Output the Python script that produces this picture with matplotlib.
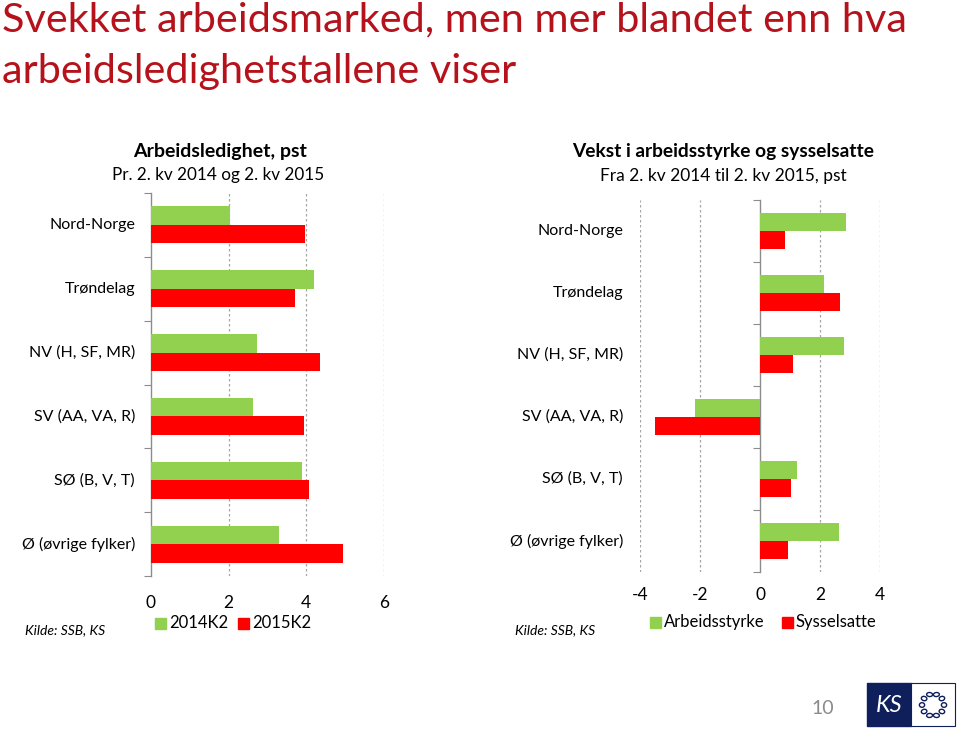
import matplotlib
matplotlib.use("Agg")
import matplotlib.pyplot as plt
import matplotlib.transforms as mtransforms
from matplotlib.patches import Rectangle, Ellipse
import numpy as np

plt.rcParams['font.family'] = ['Lato', 'DejaVu Sans']

# data
regions = ['Nord-Norge', 'Trøndelag', 'NV (H, SF, MR)', 'SV (AA, VA, R)',
           'SØ (B, V, T)', 'Ø (øvrige fylker)']
ledighet_2014 = [2.03, 4.19, 2.74, 2.63, 3.88, 3.30]
ledighet_2015 = [3.97, 3.70, 4.34, 3.93, 4.08, 4.94]
arbeidsstyrke = [2.85, 2.12, 2.79, -2.17, 1.22, 2.64]
sysselsatte = [0.84, 2.67, 1.10, -3.49, 1.03, 0.93]

left_ticks = [0, 2, 4, 6]
right_ticks = [-4, -2, 0, 2, 4]

GREEN = '#92D050'
RED = '#FF0000'
TITLE_RED = '#B5121B'

W, H = 960, 733
fig = plt.figure(figsize=(W / 100, H / 100), dpi=100)


def px_axes(x0, y0, x1, y1):
    return fig.add_axes([x0 / W, 1 - y1 / H, (x1 - x0) / W, (y1 - y0) / H])


def draw_panel(ax, a, b, ticks, label_x, tick_pad):
    y = np.arange(len(regions))
    ax.barh(y - 0.145, a, height=0.29, color=GREEN, zorder=3)
    ax.barh(y + 0.145, b, height=0.29, color=RED, zorder=3)
    ax.set_xlim(ticks[0], ticks[-1])
    ax.set_ylim(len(regions) - 0.5, -0.5)
    for s in ['top', 'right', 'bottom']:
        ax.spines[s].set_visible(False)
    ax.spines['left'].set_position(('data', 0))
    ax.spines['left'].set_color('#8c8c8c')
    ax.spines['left'].set_linewidth(1.0)
    ax.set_yticks(np.arange(-0.5, len(regions), 1.0))
    ax.set_yticklabels([])
    ax.tick_params(axis='y', length=5, color='#8c8c8c', direction='out')
    ax.set_xticks(ticks)
    ax.set_xticklabels([str(t) for t in ticks], fontsize=12.5)
    ax.tick_params(axis='x', length=0, pad=tick_pad)
    for t in ticks:
        if t != 0:
            ax.axvline(t, color='#a6a6a6', lw=0.9, ls=(0, (2, 2)), zorder=1)
    trans = mtransforms.blended_transform_factory(fig.transFigure, ax.transData)
    for i, name in enumerate(regions):
        ax.text(label_x / W, i, name, transform=trans, ha='right', va='center',
                fontsize=11.5)


# left chart
ax1 = px_axes(151, 193, 384, 576)
draw_panel(ax1, ledighet_2014, ledighet_2015, left_ticks, 135, 14)

# right chart
ax2 = px_axes(640, 200, 880, 572)
draw_panel(ax2, arbeidsstyrke, sysselsatte, right_ticks, 623, 11)

# main title
fig.text(2 / W, 1 - 20 / H, 'Svekket arbeidsmarked, men mer blandet enn hva',
         fontsize=29.8, color=TITLE_RED, va='center', ha='left')
fig.text(2 / W, 1 - 72 / H, 'arbeidsledighetstallene viser',
         fontsize=29.8, color=TITLE_RED, va='center', ha='left')

# panel titles
fig.text(220 / W, 1 - 152 / H, 'Arbeidsledighet, pst', fontsize=14,
         fontweight='bold', ha='center', va='center')
fig.text(218 / W, 1 - 175 / H, 'Pr. 2. kv 2014 og 2. kv 2015', fontsize=12.3,
         ha='center', va='center')
fig.text(572 / W, 1 - 152 / H, 'Vekst i arbeidsstyrke og sysselsatte', fontsize=13.8,
         fontweight='bold', ha='left', va='center')
fig.text(600 / W, 1 - 176 / H, 'Fra 2. kv 2014 til 2. kv 2015, pst', fontsize=12.5,
         ha='left', va='center')


# legends
def legend_item(x, y, color, label):
    fig.patches.append(Rectangle((x / W, 1 - (y + 6) / H), 11 / W, 11 / H,
                                 transform=fig.transFigure, color=color))
    fig.text((x + 14) / W, 1 - y / H, label, fontsize=12, va='center', ha='left')


legend_item(155, 623, GREEN, '2014K2')
legend_item(238, 623, RED, '2015K2')
legend_item(650, 622, GREEN, 'Arbeidsstyrke')
legend_item(782, 622, RED, 'Sysselsatte')

fig.text(25 / W, 1 - 630 / H, 'Kilde: SSB, KS', fontsize=10, style='italic',
         va='center', ha='left')
fig.text(515 / W, 1 - 630 / H, 'Kilde: SSB, KS', fontsize=10, style='italic',
         va='center', ha='left')

# page number and logo
fig.text(823 / W, 1 - 708 / H, '10', fontsize=14, color='#8a8a8a',
         ha='center', va='center')
fig.patches.append(Rectangle((867 / W, 1 - 726 / H), 44 / W, 43 / H,
                             transform=fig.transFigure, color='#0f1f5c'))
fig.patches.append(Rectangle((911 / W, 1 - 726 / H), 44 / W, 43 / H,
                             transform=fig.transFigure, facecolor='white',
                             edgecolor='#0f1f5c', lw=0.8))
fig.text(889 / W, 1 - 705 / H, 'KS', fontsize=17, color='white', style='italic',
         ha='center', va='center')
cx, cy, r = 933, 705, 11
for ang in np.linspace(0, 2 * np.pi, 10, endpoint=False):
    ex = cx + r * np.cos(ang)
    ey = cy + r * np.sin(ang)
    fig.patches.append(Ellipse((ex / W, 1 - ey / H), 6 / W, 4 / H,
                               angle=np.degrees(ang) + 90,
                               transform=fig.transFigure, facecolor='none',
                               edgecolor='#0f1f5c', lw=1.0))

fig.savefig('out.png', dpi=100)
